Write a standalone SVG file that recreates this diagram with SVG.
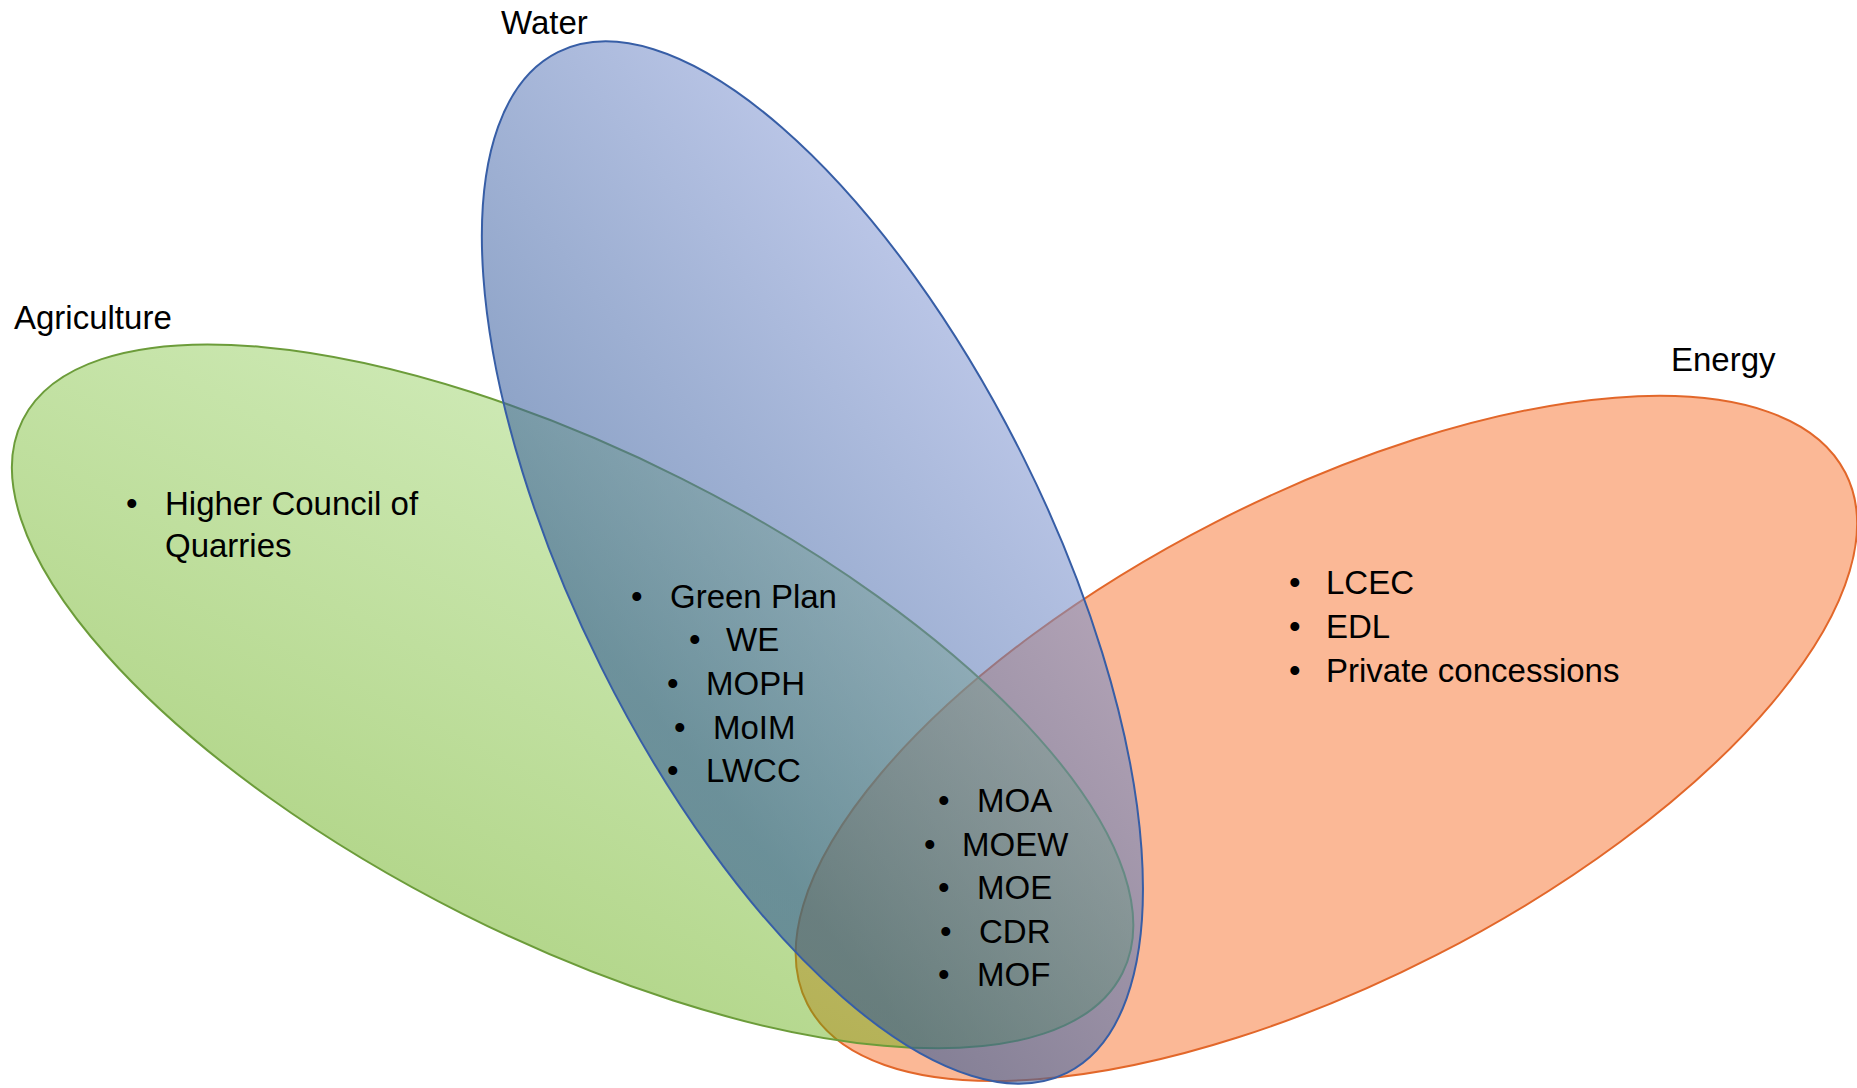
<svg xmlns="http://www.w3.org/2000/svg" width="1857" height="1088" viewBox="0 0 1857 1088">
<defs>
<linearGradient id="gGreen" gradientUnits="userSpaceOnUse" x1="463" y1="914" x2="682" y2="479" gradientTransform="rotate(-26.7 572.6 696.4)">
<stop offset="0" stop-color="#58a600"/>
<stop offset="1" stop-color="#90ce58"/>
</linearGradient>
<linearGradient id="gBlue" gradientUnits="userSpaceOnUse" x1="609" y1="724" x2="1016" y2="401" gradientTransform="rotate(-63.5 812.4 562.5)">
<stop offset="0.08" stop-color="#2f5796"/>
<stop offset="1" stop-color="#879bd4"/>
</linearGradient>
<style>
.lbl{font-family:"Liberation Sans",Arial,sans-serif;font-size:33px;fill:#000}
.edge-g{stroke:#6c9c3a;stroke-width:2}
.edge-b{stroke:#375ea6;stroke-width:2}
.edge-o{stroke:#e2672a;stroke-width:2}
</style>
</defs>
<rect width="1857" height="1088" fill="#fff"/>
<g id="energy">
<ellipse cx="1326.4" cy="738.4" rx="583" ry="243" transform="rotate(-27.1 1326.4 738.4)" fill="#f7712d" fill-opacity="0.5" class="edge-o"/>
</g>
<g id="agriculture">
<ellipse cx="572.6" cy="696.4" rx="615.5" ry="243.6" transform="rotate(26.7 572.6 696.4)" fill="url(#gGreen)" fill-opacity="0.45" class="edge-g"/>
</g>
<g id="water">
<ellipse cx="812.4" cy="562.5" rx="570.3" ry="235.7" transform="rotate(63.5 812.4 562.5)" fill="url(#gBlue)" fill-opacity="0.58" class="edge-b"/>
</g>
<g id="titles">
<text class="lbl" x="501" y="34">Water</text>
<text class="lbl" x="14" y="329">Agriculture</text>
<text class="lbl" x="1671" y="371">Energy</text>
</g>
<g id="agri-list">
<text class="lbl" x="126" y="515">•</text><text class="lbl" x="165" y="515">Higher Council of</text>
<text class="lbl" x="165" y="557">Quarries</text>
</g>
<g id="water-agri-list">
<text class="lbl" x="631" y="608">•</text><text class="lbl" x="670" y="608">Green Plan</text>
<text class="lbl" x="689" y="651">•</text><text class="lbl" x="726" y="651">WE</text>
<text class="lbl" x="667" y="695">•</text><text class="lbl" x="706" y="695">MOPH</text>
<text class="lbl" x="674" y="739">•</text><text class="lbl" x="713" y="739">MoIM</text>
<text class="lbl" x="667" y="782">•</text><text class="lbl" x="706" y="782">LWCC</text>
</g>
<g id="center-list">
<text class="lbl" x="938" y="812">•</text><text class="lbl" x="977" y="812">MOA</text>
<text class="lbl" x="924" y="856">•</text><text class="lbl" x="962" y="856">MOEW</text>
<text class="lbl" x="938" y="899">•</text><text class="lbl" x="977" y="899">MOE</text>
<text class="lbl" x="940" y="943">•</text><text class="lbl" x="979" y="943">CDR</text>
<text class="lbl" x="938" y="986">•</text><text class="lbl" x="977" y="986">MOF</text>
</g>
<g id="energy-list">
<text class="lbl" x="1289" y="594">•</text><text class="lbl" x="1326" y="594">LCEC</text>
<text class="lbl" x="1289" y="638">•</text><text class="lbl" x="1326" y="638">EDL</text>
<text class="lbl" x="1289" y="682">•</text><text class="lbl" x="1326" y="682">Private concessions</text>
</g>
</svg>
